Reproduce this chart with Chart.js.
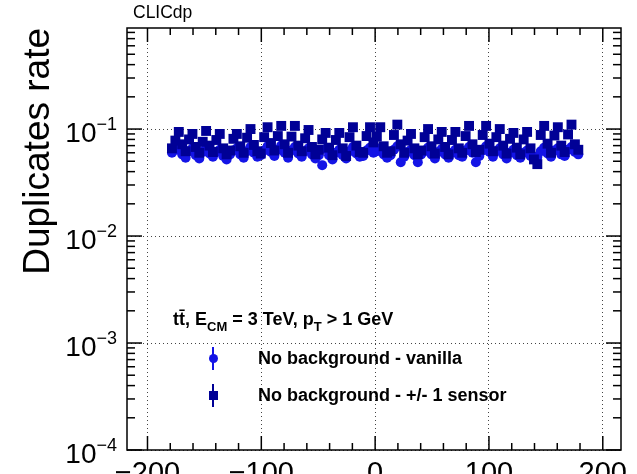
<!DOCTYPE html>
<html>
<head>
<meta charset="utf-8">
<script src="https://cdn.jsdelivr.net/npm/chart.js@4/dist/chart.umd.min.js"></script>
<style>
  html, body { margin: 0; padding: 0; background: #fff; overflow: hidden; }
  #wrap { position: relative; width: 637px; height: 520px; }
  #c { display: block; }
  .txt { position: absolute; font-family: 'Liberation Sans', Arial, Helvetica, sans-serif; color: #000; white-space: nowrap; line-height: 1; }
  .b { font-weight: bold; }
  .sub { font-size: 13px; position: relative; top: 6px; }
  .mk { position: absolute; }
</style>
</head>
<body>
<div id="wrap">
  <canvas id="c" width="637" height="520"></canvas>
  <div class="txt" style="left:133px; top:4px; font-size:17.5px;">CLICdp</div>
  <div class="txt b" style="left:173px; top:310px; font-size:18px;">tt&#772;, E<span class="sub">CM</span> = 3 TeV, p<span class="sub">T</span> &gt; 1 GeV</div>
  <div class="txt b" style="left:258px; top:349px; font-size:18px;">No background - vanilla</div>
  <div class="txt b" style="left:258px; top:386px; font-size:18px;">No background - +/- 1 sensor</div>
  <div class="mk" style="left:212px; top:347px; width:2px; height:23px; background:#1414e6;"></div>
  <div class="mk" style="left:208.5px; top:353.5px; width:9px; height:9px; border-radius:50%; background:#1414e6;"></div>
  <div class="mk" style="left:212px; top:384px; width:2px; height:23px; background:#000096;"></div>
  <div class="mk" style="left:208.5px; top:390.5px; width:9px; height:9px; background:#000096;"></div>
</div>
<script>
// phi bin centres (deg), 3 deg bins
const binCentres = [
  -178.5, -175.5, -172.5, -169.5, -166.5, -163.5, -160.5, -157.5, -154.5, -151.5,
  -148.5, -145.5, -142.5, -139.5, -136.5, -133.5, -130.5, -127.5, -124.5, -121.5,
  -118.5, -115.5, -112.5, -109.5, -106.5, -103.5, -100.5, -97.5, -94.5, -91.5,
  -88.5, -85.5, -82.5, -79.5, -76.5, -73.5, -70.5, -67.5, -64.5, -61.5,
  -58.5, -55.5, -52.5, -49.5, -46.5, -43.5, -40.5, -37.5, -34.5, -31.5,
  -28.5, -25.5, -22.5, -19.5, -16.5, -13.5, -10.5, -7.5, -4.5, -1.5,
  1.5, 4.5, 7.5, 10.5, 13.5, 16.5, 19.5, 22.5, 25.5, 28.5,
  31.5, 34.5, 37.5, 40.5, 43.5, 46.5, 49.5, 52.5, 55.5, 58.5,
  61.5, 64.5, 67.5, 70.5, 73.5, 76.5, 79.5, 82.5, 85.5, 88.5,
  91.5, 94.5, 97.5, 100.5, 103.5, 106.5, 109.5, 112.5, 115.5, 118.5,
  121.5, 124.5, 127.5, 130.5, 133.5, 136.5, 139.5, 142.5, 145.5, 148.5,
  151.5, 154.5, 157.5, 160.5, 163.5, 166.5, 169.5, 172.5, 175.5, 178.5
];

// No background - vanilla
const rateVanilla = [
  0.060, 0.064, 0.069, 0.058, 0.054, 0.062, 0.066, 0.057, 0.053, 0.061,
  0.067, 0.059, 0.055, 0.061, 0.064, 0.056, 0.052, 0.058, 0.063, 0.066,
  0.058, 0.054, 0.062, 0.068, 0.060, 0.055, 0.057, 0.063, 0.069, 0.061,
  0.056, 0.064, 0.070, 0.060, 0.054, 0.063, 0.068, 0.059, 0.055, 0.062,
  0.066, 0.058, 0.053, 0.057, 0.046, 0.065, 0.057, 0.052, 0.060, 0.064,
  0.057, 0.053, 0.062, 0.068, 0.059, 0.055, 0.056, 0.063, 0.067, 0.060,
  0.062, 0.066, 0.058, 0.054, 0.057, 0.064, 0.069, 0.049, 0.055, 0.061,
  0.064, 0.057, 0.049, 0.058, 0.062, 0.067, 0.058, 0.053, 0.061, 0.065,
  0.058, 0.054, 0.060, 0.064, 0.057, 0.055, 0.063, 0.068, 0.060, 0.049,
  0.056, 0.063, 0.069, 0.061, 0.055, 0.062, 0.066, 0.058, 0.053, 0.060,
  0.064, 0.057, 0.054, 0.060, 0.063, 0.056, 0.052, 0.055, 0.062, 0.067,
  0.059, 0.055, 0.063, 0.066, 0.058, 0.056, 0.064, 0.068, 0.061, 0.058
];

// No background - +/- 1 sensor
const rateSensor = [
  0.066, 0.078, 0.094, 0.072, 0.062, 0.080, 0.090, 0.068, 0.060, 0.076,
  0.096, 0.070, 0.061, 0.079, 0.090, 0.066, 0.058, 0.063, 0.081, 0.090,
  0.069, 0.060, 0.083, 0.100, 0.071, 0.062, 0.059, 0.084, 0.104, 0.074,
  0.063, 0.086, 0.107, 0.072, 0.060, 0.085, 0.107, 0.070, 0.062, 0.082,
  0.098, 0.068, 0.058, 0.064, 0.080, 0.092, 0.067, 0.057, 0.079, 0.092,
  0.066, 0.056, 0.084, 0.104, 0.070, 0.061, 0.060, 0.086, 0.104, 0.075,
  0.085, 0.104, 0.069, 0.060, 0.062, 0.088, 0.110, 0.072, 0.060, 0.078,
  0.090, 0.066, 0.058, 0.063, 0.084, 0.100, 0.069, 0.059, 0.080, 0.094,
  0.068, 0.058, 0.079, 0.094, 0.066, 0.060, 0.086, 0.107, 0.072, 0.061,
  0.064, 0.088, 0.107, 0.073, 0.062, 0.084, 0.100, 0.070, 0.059, 0.081,
  0.092, 0.067, 0.058, 0.080, 0.094, 0.066, 0.052, 0.047, 0.088, 0.107,
  0.073, 0.060, 0.087, 0.104, 0.070, 0.061, 0.089, 0.110, 0.072, 0.064
];

// statistical error per point (approx, hidden under markers mostly)
const errVanilla = 0.003;
const errSensor = 0.004;

const xTicks = [-200, -100, 0, 100, 200];
const yDecades = [1e-4, 1e-3, 1e-2, 1e-1];

const FONT = "'Liberation Sans', Arial, Helvetica, sans-serif";
const colVanilla = '#1414e6';
const colSensor = '#000096';

const toPts = (ys) => ys.map((y, i) => ({ x: binCentres[i], y }));

// --- ROOT-like frame, inward ticks, error bars, y labels ---
const rootAxes = {
  id: 'rootAxes',
  beforeDatasetsDraw(chart) {
    const ctx = chart.ctx;
    const xs = chart.scales.x, ys = chart.scales.y;
    const errs = [errVanilla, errSensor];
    ctx.save();
    chart.data.datasets.forEach((ds, di) => {
      ctx.strokeStyle = ds.backgroundColor;
      ctx.lineWidth = 1.5;
      ds.data.forEach(p => {
        const px = xs.getPixelForValue(p.x);
        ctx.beginPath();
        ctx.moveTo(px, ys.getPixelForValue(p.y - errs[di]));
        ctx.lineTo(px, ys.getPixelForValue(p.y + errs[di]));
        ctx.stroke();
      });
    });
    ctx.restore();
  },
  afterDraw(chart) {
    const ctx = chart.ctx;
    const a = chart.chartArea;
    const xs = chart.scales.x, ys = chart.scales.y;
    ctx.save();
    ctx.strokeStyle = '#000';
    ctx.lineWidth = 1.5;
    ctx.strokeRect(a.left, a.top, a.right - a.left, a.bottom - a.top);

    const line = (x1, y1, x2, y2) => { ctx.beginPath(); ctx.moveTo(x1, y1); ctx.lineTo(x2, y2); ctx.stroke(); };

    // x ticks, major every 100, minor every 20
    for (let v = -200; v <= 200; v += 20) {
      const px = xs.getPixelForValue(v);
      const len = v % 100 === 0 ? 14 : 7;
      line(px, a.bottom, px, a.bottom - len);
      line(px, a.top, px, a.top + len);
    }
    // y ticks, decades + 2..9
    yDecades.forEach(d => {
      for (let m = 1; m <= 9; m++) {
        const v = d * m;
        if (v > ys.max) continue;
        const py = ys.getPixelForValue(v);
        const len = m === 1 ? 15 : 8;
        line(a.left, py, a.left + len, py);
        line(a.right, py, a.right - len, py);
      }
    });

    // y tick labels 10^n
    ctx.fillStyle = '#000';
    ctx.textAlign = 'left';
    ctx.textBaseline = 'alphabetic';
    yDecades.forEach(d => {
      const py = ys.getPixelForValue(d);
      const sup = '\u2212' + Math.round(-Math.log10(d));
      ctx.font = '18px ' + FONT;
      const wSup = ctx.measureText(sup).width;
      const supX = 117 - wSup;
      ctx.fillText(sup, supX, py + 1);
      ctx.font = '28px ' + FONT;
      const w10 = ctx.measureText('10').width;
      ctx.fillText('10', supX - w10, py + 13);
    });
    ctx.restore();
  }
};

new Chart(document.getElementById('c'), {
  type: 'scatter',
  data: {
    datasets: [
      { label: 'No background - vanilla', data: toPts(rateVanilla), order: 1,
        pointStyle: 'circle', radius: 5, borderWidth: 0,
        backgroundColor: colVanilla, borderColor: colVanilla },
      { label: 'No background - +/- 1 sensor', data: toPts(rateSensor), order: 0,
        pointStyle: 'rect', radius: 7, borderWidth: 0,
        backgroundColor: colSensor, borderColor: colSensor }
    ]
  },
  options: {
    responsive: false,
    animation: false,
    devicePixelRatio: 1,
    layout: { padding: { top: 28, right: 16, left: 0, bottom: 0 } },
    plugins: { legend: { display: false }, tooltip: { enabled: false } },
    scales: {
      x: {
        type: 'linear',
        min: -218,
        max: 216,
        afterBuildTicks: (s) => { s.ticks = xTicks.map(v => ({ value: v })); },
        afterFit: (s) => { s.height = 70; },
        grid: { color: '#444', lineWidth: 1, drawTicks: false },
        border: { display: false, dash: [1, 3] },
        ticks: {
          color: '#000',
          padding: 7,
          maxRotation: 0,
          font: { family: FONT, size: 29 },
          callback: (v) => v < 0 ? '\u2212' + Math.abs(v) : String(v)
        }
      },
      y: {
        type: 'logarithmic',
        min: 1e-4,
        max: 0.88,
        afterBuildTicks: (s) => { s.ticks = yDecades.map(v => ({ value: v, major: true })); },
        afterFit: (s) => { s.width = 127; },
        grid: { color: '#444', lineWidth: 1, drawTicks: false },
        border: { display: false, dash: [1, 3] },
        ticks: { display: false },
        title: {
          display: true,
          text: 'Duplicates rate',
          align: 'end',
          color: '#000',
          padding: { top: 17, bottom: 0 },
          font: { family: FONT, size: 37, weight: 'normal' }
        }
      }
    }
  },
  plugins: [rootAxes]
});
</script>
</body>
</html>
